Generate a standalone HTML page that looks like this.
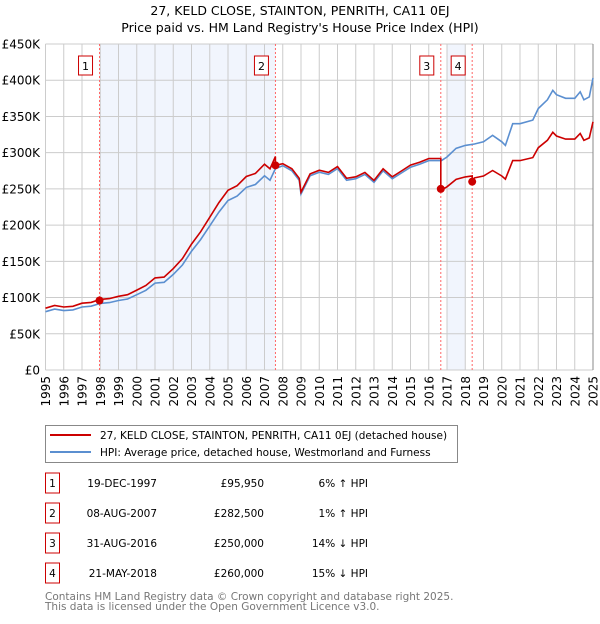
<!DOCTYPE html>
<html><head><meta charset="utf-8"><style>
body{margin:0;background:#fff;font-family:"DejaVu Sans","Liberation Sans",sans-serif;}
svg text{font-family:"DejaVu Sans","Liberation Sans",sans-serif;}
</style></head><body>
<svg id="c" width="600" height="620" xmlns="http://www.w3.org/2000/svg">
<text x="300" y="15" text-anchor="middle" font-size="12.5" fill="#000">27, KELD CLOSE, STAINTON, PENRITH, CA11 0EJ</text>
<text x="300" y="32" text-anchor="middle" font-size="12.5" fill="#000">Price paid vs. HM Land Registry's House Price Index (HPI)</text>
<g id="plot"></g>
<rect x="45.5" y="425.5" width="412" height="37" fill="#fff" stroke="#888"/>
<line x1="50" y1="435" x2="91" y2="435" stroke="#cc0000" stroke-width="2"/>
<text x="100" y="439" font-size="10.5">27, KELD CLOSE, STAINTON, PENRITH, CA11 0EJ (detached house)</text>
<line x1="50" y1="452" x2="91" y2="452" stroke="#5b8fd0" stroke-width="2"/>
<text x="100" y="456" font-size="10.5">HPI: Average price, detached house, Westmorland and Furness</text>
<g id="table" font-size="10.5"></g>
<text x="45" y="600" font-size="10.5" fill="#777">Contains HM Land Registry data © Crown copyright and database right 2025.</text>
<text x="45" y="610" font-size="10.5" fill="#777">This data is licensed under the Open Government Licence v3.0.</text>
</svg>
<script>
const hpiYears=[1995,1995.5,1996,1996.5,1997,1997.5,1998,1998.5,1999,1999.5,2000,2000.5,2001,2001.5,2002,2002.5,2003,2003.5,2004,2004.5,2005,2005.5,2006,2006.5,2007,2007.3,2007.6,2008,2008.5,2008.9,2009,2009.5,2010,2010.5,2011,2011.5,2012,2012.5,2013,2013.5,2014,2014.5,2015,2015.5,2016,2016.7,2017,2017.5,2018,2018.5,2019,2019.5,2020,2020.2,2020.6,2021,2021.7,2022,2022.5,2022.8,2023,2023.5,2024,2024.3,2024.5,2024.8,2025];
const hpiValues=[80500,84000,82000,83000,87000,88000,92000,93000,96000,98000,104000,110000,120000,121000,132000,145000,164000,180000,199000,218000,234000,240000,252000,256000,268000,262000,278000,282000,275000,262000,243000,268000,273000,270000,278000,262000,264000,270000,259000,275000,264000,272000,280000,284000,289000,289000,294000,306000,310000,312000,315000,324000,315000,310000,340000,340000,345000,361000,373000,386000,380000,375000,375000,384000,373000,377000,403000];
const saleDates=[1997.96,2007.6,2016.66,2018.38];
const salePrices=[95950,282500,250000,260000];
const saleLabels=["19-DEC-1997","08-AUG-2007","31-AUG-2016","21-MAY-2018"];
const salePriceText=["£95,950","£282,500","£250,000","£260,000"];
const saleDiff=[6,1,-14,-15];
const yTicks=[0,50000,100000,150000,200000,250000,300000,350000,400000,450000];
const yTickLabels=["£0","£50K","£100K","£150K","£200K","£250K","£300K","£350K","£400K","£450K"];
const xTicks=[1995,1996,1997,1998,1999,2000,2001,2002,2003,2004,2005,2006,2007,2008,2009,2010,2011,2012,2013,2014,2015,2016,2017,2018,2019,2020,2021,2022,2023,2024,2025];

const X0=45.5,X1=593,Y0=370,Y1=44;
const xs=t=>X0+(t-1995)/30*(X1-X0);
const ys=v=>Y0-v/450000*(Y0-Y1);
const NS="http://www.w3.org/2000/svg";
const plot=document.getElementById('plot');
function mk(tag,attrs,parent){const e=document.createElementNS(NS,tag);for(const k in attrs)e.setAttribute(k,attrs[k]);(parent||plot).appendChild(e);return e;}

// shading between sale pairs
let sh1=mk('rect',{x:xs(1998),y:Y1,width:xs(saleDates[1])-xs(1998),height:Y0-Y1,fill:'#eef3fc',opacity:0.8});


let sh2=mk('rect',{x:xs(2017),y:Y1,width:xs(2018)-xs(2017),height:Y0-Y1,fill:'#eef3fc',opacity:0.8});



// gridlines
xTicks.forEach((t,i)=>{
 let l=mk('line',{x1:xs(t),x2:xs(t),y1:Y1,y2:Y0,stroke:'#cccccc','stroke-width':1});
 
 
 let tx=mk('text',{x:0,y:0,'font-size':12,'text-anchor':'end',transform:`translate(${xs(t)+4.5},376) rotate(-90)`});
 tx.textContent=t;
 
 
});
yTicks.forEach((v,i)=>{
 let l=mk('line',{x1:X0,x2:X1,y1:ys(v),y2:ys(v),stroke:'#cccccc','stroke-width':1});
 
 
 let tx=mk('text',{x:40,y:ys(v)+4.5,'font-size':12,'text-anchor':'end'});
 tx.textContent=yTickLabels[i];
 
 
});
let edge=mk('line',{x1:X1,x2:X1,y1:Y1,y2:Y0,stroke:'#888','stroke-width':1});



// sale vlines and number boxes
saleDates.forEach((d,i)=>{
 let l=mk('line',{x1:xs(d),x2:xs(d),y1:Y1,y2:Y0,stroke:'#ff6666','stroke-width':1,'stroke-dasharray':'2,2'});
 
 
 let b=mk('rect',{x:xs(d)-21,y:56,width:14,height:19,fill:'#fff',stroke:'#cc0000'});
 
 
 let t=mk('text',{x:xs(d)-14,y:70,'font-size':11,'text-anchor':'middle'});
 t.textContent=i+1;
 
 
});

// series
function ratioAt(t){let idx=0;for(let i=0;i<saleDates.length;i++)if(t>=saleDates[i])idx=i;return 1+saleDiff[idx]/100;}
let hp='',rp='';
hpiYears.forEach((t,i)=>{hp+=(i?'L':'M')+xs(t).toFixed(1)+','+ys(hpiValues[i]).toFixed(1);});
let pts=[];
hpiYears.forEach((t,i)=>{pts.push([t,hpiValues[i]*ratioAt(t)]);});
saleDates.forEach((d,i)=>{pts.push([d-0.001,null]);pts.push([d,salePrices[i]]);});
pts.sort((a,b)=>a[0]-b[0]);
// fill nulls with previous segment value
function hpiAt(t){for(let i=1;i<hpiYears.length;i++){if(t<=hpiYears[i]){const f=(t-hpiYears[i-1])/(hpiYears[i]-hpiYears[i-1]);return hpiValues[i-1]+f*(hpiValues[i]-hpiValues[i-1]);}}return hpiValues[hpiValues.length-1];}
pts.forEach((p,i)=>{if(p[1]===null){const k=saleDates.findIndex(d=>Math.abs(d-0.001-p[0])<1e-6);const prev=k>0?saleDiff[k-1]:saleDiff[0];p[1]=hpiAt(p[0])*(1+prev/100);}});
pts.forEach((p,i)=>{rp+=(i?'L':'M')+xs(p[0]).toFixed(1)+','+ys(p[1]).toFixed(1);});
let hl=mk('path',{d:hp,fill:'none',stroke:'#5b8fd0','stroke-width':1.6});


let rl=mk('path',{d:rp,fill:'none',stroke:'#cc0000','stroke-width':1.6});


saleDates.forEach((d,i)=>{
 let c=mk('circle',{cx:xs(d),cy:ys(salePrices[i]),r:4,fill:'#cc0000'});
 
 
});

// table
const tb=document.getElementById('table');
const rowY=[483,513,543,573];
saleDates.forEach((d,i)=>{
 const y=rowY[i];
 let b=mk('rect',{x:45.5,y:y-10,width:14,height:20,fill:'#fff',stroke:'#cc0000'},tb);
 
 
 let n=mk('text',{x:52.5,y:y+4,'text-anchor':'middle'},tb);n.textContent=i+1;
 
 
 let a=mk('text',{x:157,y:y+4,'text-anchor':'end'},tb);a.textContent=saleLabels[i];
 
 
 let p=mk('text',{x:264,y:y+4,'text-anchor':'end'},tb);p.textContent=salePriceText[i];
 
 
 let h=mk('text',{x:368,y:y+4,'text-anchor':'end'},tb);
 h.textContent=Math.abs(saleDiff[i])+'% '+(saleDiff[i]>=0?'↑':'↓')+' HPI';
 
 
});
</script>
</body></html>
